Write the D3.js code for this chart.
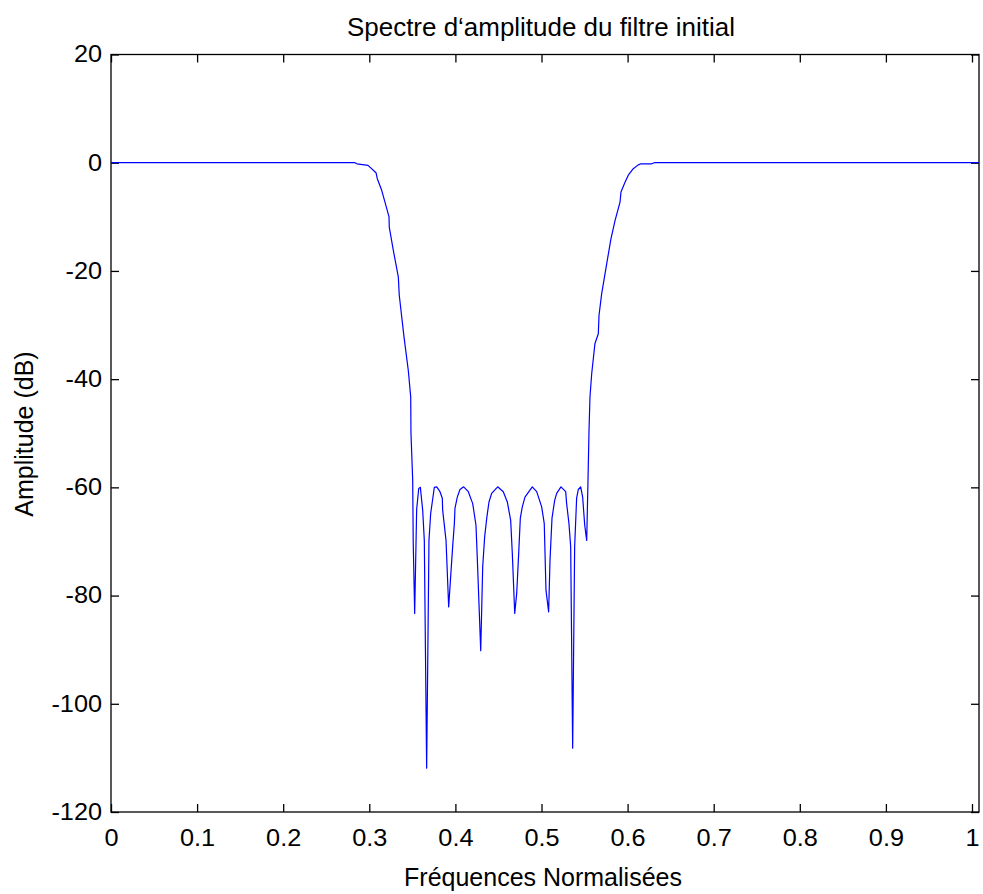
<!DOCTYPE html>
<html>
<head>
<meta charset="utf-8">
<script src="https://cdn.jsdelivr.net/npm/d3@7"></script>
<style>
  html, body { margin: 0; padding: 0; background: #ffffff; }
  svg { display: block; }
  text { font-family: "Liberation Sans", Arial, sans-serif; fill: #000; }
</style>
</head>
<body>
<svg id="chart" width="983" height="894"></svg>
<script>
// ---- data ----
const freqs = [0, 0.2834, 0.2857, 0.2985, 0.3078, 0.3093, 0.3144, 0.3182, 0.3229, 0.3232, 0.3279, 0.3337, 0.3348,
  0.3403, 0.3453, 0.3481, 0.3484, 0.3504, 0.3510, 0.3527,
  0.3550, 0.3574, 0.3593, 0.3620, 0.3639, 0.3666,
  0.3693, 0.3713, 0.3736, 0.3755, 0.3783, 0.3821, 0.3848, 0.3852, 0.3891, 0.3922,
  0.3945, 0.3968, 0.3988, 0.3995, 0.4022, 0.4053, 0.4096, 0.4150, 0.4201, 0.4239, 0.4255, 0.4294,
  0.4317, 0.4340, 0.4364, 0.4390, 0.4421, 0.4491, 0.4556, 0.4603, 0.4642, 0.4661, 0.4689,
  0.4712, 0.4735, 0.4754, 0.4777, 0.4808, 0.4893, 0.4944, 0.5002, 0.5032, 0.5052, 0.5083,
  0.5099, 0.5122, 0.5153, 0.5176, 0.5226, 0.5281, 0.5292, 0.5319, 0.5339, 0.5362,
  0.5385, 0.5408, 0.5427, 0.5455, 0.5478, 0.5502, 0.5525, 0.5540, 0.5552, 0.5563, 0.5583, 0.5621, 0.5660, 0.5668,
  0.5699, 0.5757, 0.5804, 0.5808, 0.5854, 0.5912, 0.5923, 0.5970, 0.6008, 0.6066, 0.6124, 0.6155, 0.6280, 0.6310,
  1.0, 1.008];
const amplitudeDb = [0, 0, -0.2, -0.5, -1.85, -2.95, -5.1, -7.3, -10.0, -11.9, -16.2, -21.1, -24.5,
  -32.2, -38.4, -43.3, -50.0, -58.7, -70.0, -83.3,
  -64.1, -60.2, -60.0, -64.2, -69.8, -111.9,
  -69.8, -64.8, -62.2, -60.0, -59.9, -60.8, -62.0, -64.2, -69.8, -82.1,
  -76.5, -71.0, -66.7, -63.9, -61.8, -60.4, -59.9, -60.8, -63.0, -67.0, -73.4, -90.2,
  -74.7, -69.1, -65.7, -62.7, -61.1, -59.9, -60.8, -62.7, -66.1, -72.2, -83.3,
  -79.6, -72.2, -65.7, -63.6, -61.8, -59.9, -60.8, -63.6, -66.7, -79.0, -83.0,
  -73.4, -65.7, -62.4, -61.1, -59.9, -60.8, -63.0, -66.7, -71.0, -108.2,
  -71.0, -62.0, -60.4, -59.9, -61.8, -67.0, -69.8, -58.7, -49.4, -43.3, -39.0, -33.4, -31.6, -28.2,
  -24.2, -18.7, -14.3, -14.0, -10.7, -7.3, -5.4, -3.6, -2.3, -1.1, -0.4, -0.2, -0.2, 0,
  0, 0];
const xTickValues = [0, 0.1, 0.2, 0.3, 0.4, 0.5, 0.6, 0.7, 0.8, 0.9, 1];
const xTickLabels = ["0", "0.1", "0.2", "0.3", "0.4", "0.5", "0.6", "0.7", "0.8", "0.9", "1"];
const yTickValues = [20, 0, -20, -40, -60, -80, -100, -120];
const yTickLabels = ["20", "0", "-20", "-40", "-60", "-80", "-100", "-120"];
const titleText = "Spectre d\u2018amplitude du filtre initial";
const xLabelText = "Fréquences Normalisées";
const yLabelText = "Amplitude (dB)";

// ---- layout ----
const svg = d3.select("#chart");
const plotLeft = 111, plotRight = 979, plotTop = 54.5, plotBottom = 812;
const x = d3.scaleLinear().domain([0, 1]).range([plotLeft, 972]);
const y = d3.scaleLinear().domain([-120, 20]).range([plotBottom, plotTop]);
const tickLen = 8;

// frame
svg.append("rect")
  .attr("x", plotLeft).attr("y", plotTop)
  .attr("width", plotRight - plotLeft).attr("height", plotBottom - plotTop)
  .attr("fill", "none").attr("stroke", "#000").attr("stroke-width", 1.3);

// bottom axis
const gB = svg.append("g").attr("transform", `translate(0,${plotBottom})`)
  .call(d3.axisBottom(x).tickValues(xTickValues)
    .tickFormat((d, i) => xTickLabels[i])
    .tickSizeInner(-tickLen).tickSizeOuter(0).tickPadding(18));
// top axis
const gT = svg.append("g").attr("transform", `translate(0,${plotTop})`)
  .call(d3.axisTop(x).tickValues(xTickValues).tickFormat("")
    .tickSizeInner(-tickLen).tickSizeOuter(0));
// left axis
const gL = svg.append("g").attr("transform", `translate(${plotLeft},0)`)
  .call(d3.axisLeft(y).tickValues(yTickValues)
    .tickFormat((d, i) => yTickLabels[i])
    .tickSizeInner(-tickLen).tickSizeOuter(0).tickPadding(9));
// right axis
const gR = svg.append("g").attr("transform", `translate(${plotRight},0)`)
  .call(d3.axisRight(y).tickValues(yTickValues).tickFormat("")
    .tickSizeInner(-tickLen).tickSizeOuter(0));

[gB, gT, gL, gR].forEach(g => {
  g.select(".domain").remove();
  g.selectAll(".tick line").attr("stroke", "#000").attr("stroke-width", 1.3);
  g.selectAll(".tick text")
    .attr("font-family", "Liberation Sans, Arial, sans-serif")
    .attr("font-size", 23)
    .attr("fill", "#000");
});
gB.selectAll(".tick text").attr("transform", "scale(1.1,1)");
gL.selectAll(".tick text").attr("transform", "scale(1.1,1)").attr("x", -9 / 1.1);

// line
const line = d3.line().x((d, i) => x(freqs[i])).y(d => y(d));
svg.append("path")
  .datum(amplitudeDb)
  .attr("d", line)
  .attr("fill", "none")
  .attr("stroke", "#0000ff")
  .attr("stroke-width", 1.2)
  .attr("stroke-linejoin", "round");

// title
svg.append("text")
  .attr("x", 541).attr("y", 36)
  .attr("text-anchor", "middle")
  .attr("font-size", 26)
  .attr("textLength", 388).attr("lengthAdjust", "spacingAndGlyphs")
  .text(titleText);

// x label
svg.append("text")
  .attr("x", 543).attr("y", 886)
  .attr("text-anchor", "middle")
  .attr("font-size", 25)
  .text(xLabelText);

// y label
svg.append("text")
  .attr("transform", "translate(33,434) rotate(-90)")
  .attr("text-anchor", "middle")
  .attr("font-size", 25)
  .text(yLabelText);
</script>
</body>
</html>
